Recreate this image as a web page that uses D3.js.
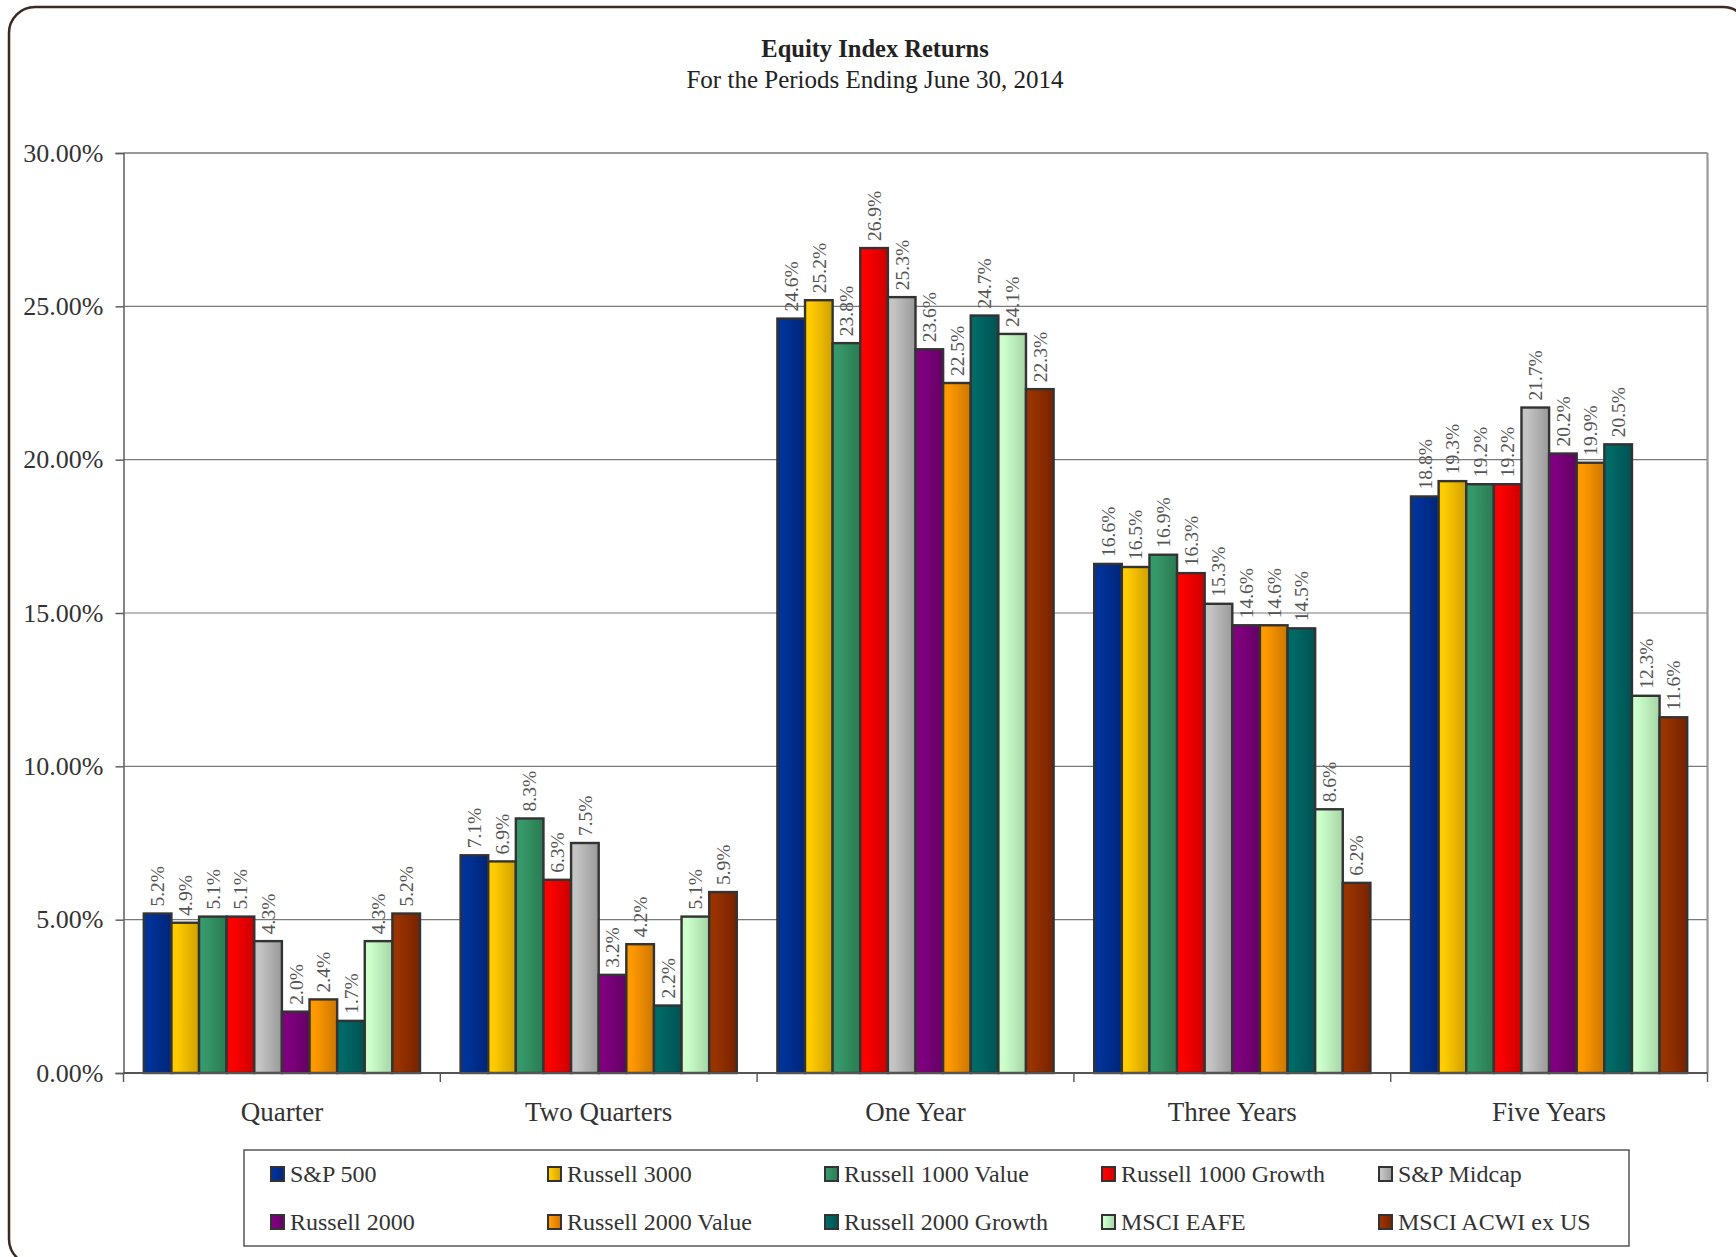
<!DOCTYPE html>
<html>
<head>
<meta charset="utf-8">
<script src="https://cdn.jsdelivr.net/npm/d3@7"></script>
<style>
  html, body { margin: 0; padding: 0; background: #fff; }
  svg { display: block; }
  text { font-family: "Liberation Serif", "DejaVu Serif", serif; }
</style>
</head>
<body>
<svg id="chart" width="1736" height="1257"></svg>
<script>
// ---------- data ----------
const categories = ["Quarter", "Two Quarters", "One Year", "Three Years", "Five Years"];
const seriesNames = ["S&P 500", "Russell 3000", "Russell 1000 Value", "Russell 1000 Growth", "S&P Midcap",
                     "Russell 2000", "Russell 2000 Value", "Russell 2000 Growth", "MSCI EAFE", "MSCI ACWI ex US"];
const sp500        = [5.2, 7.1, 24.6, 16.6, 18.8];
const russell3000  = [4.9, 6.9, 25.2, 16.5, 19.3];
const r1000Value   = [5.1, 8.3, 23.8, 16.9, 19.2];
const r1000Growth  = [5.1, 6.3, 26.9, 16.3, 19.2];
const spMidcap     = [4.3, 7.5, 25.3, 15.3, 21.7];
const russell2000  = [2.0, 3.2, 23.6, 14.6, 20.2];
const r2000Value   = [2.4, 4.2, 22.5, 14.6, 19.9];
const r2000Growth  = [1.7, 2.2, 24.7, 14.5, 20.5];
const msciEafe     = [4.3, 5.1, 24.1, 8.6, 12.3];
const msciAcwi     = [5.2, 5.9, 22.3, 6.2, 11.6];
const seriesValues = [sp500, russell3000, r1000Value, r1000Growth, spMidcap,
                      russell2000, r2000Value, r2000Growth, msciEafe, msciAcwi];
const yTicks = [0, 5, 10, 15, 20, 25, 30];
const title = "Equity Index Returns";
const subtitle = "For the Periods Ending June 30, 2014";

// colour pairs (light -> dark gradient)
const colors = [
  ["#003399", "#00257a"], ["#FFCC00", "#D0A000"], ["#36996A", "#2A7A52"], ["#FF0000", "#CC0000"],
  ["#C4C4C4", "#999999"], ["#800080", "#640064"], ["#FF9900", "#CC7700"], ["#006A66", "#005252"],
  ["#CCFFCC", "#A6D4A6"], ["#993300", "#772200"]
];

// ---------- layout ----------
const svg = d3.select("#chart");
const plot = { left: 123.5, right: 1707.5, top: 153, bottom: 1073 };

const defs = svg.append("defs");
colors.forEach((c, i) => {
  const g = defs.append("linearGradient").attr("id", "grad" + i)
    .attr("x1", "0%").attr("x2", "100%").attr("y1", "0%").attr("y2", "0%");
  g.append("stop").attr("offset", "0%").attr("stop-color", c[0]);
  g.append("stop").attr("offset", "20%").attr("stop-color", c[0]);
  g.append("stop").attr("offset", "100%").attr("stop-color", c[1]);
});

// outer rounded frame
svg.append("rect").attr("x", 9).attr("y", 7).attr("width", 1740).attr("height", 1258)
  .attr("rx", 26).attr("ry", 26).attr("fill", "#fff")
  .attr("stroke", "#3a2a22").attr("stroke-width", 2.5);

// titles
svg.append("text").attr("x", 875).attr("y", 57).attr("text-anchor", "middle")
  .attr("font-size", 24.5).attr("font-weight", "bold").attr("fill", "#222").text(title);
svg.append("text").attr("x", 875).attr("y", 88).attr("text-anchor", "middle")
  .attr("font-size", 25).attr("fill", "#222").text(subtitle);

// scales
const x0 = d3.scaleBand().domain(categories).range([plot.left, plot.right]).paddingInner(0).paddingOuter(0);
const groupPad = 20.3;
const x1 = d3.scaleBand().domain(d3.range(seriesNames.length))
  .range([groupPad, x0.bandwidth() - groupPad]).padding(0);
const y = d3.scaleLinear().domain([0, 30]).range([plot.bottom, plot.top]);

// gridlines
svg.append("g").selectAll("line").data(yTicks.filter(t => t > 0 && t < 30)).join("line")
  .attr("x1", plot.left).attr("x2", plot.right)
  .attr("y1", d => y(d)).attr("y2", d => y(d))
  .attr("stroke", "#7a7a7a").attr("stroke-width", 1.2);

// plot frame top/right
svg.append("line").attr("x1", plot.left).attr("x2", plot.right).attr("y1", plot.top).attr("y2", plot.top)
  .attr("stroke", "#999").attr("stroke-width", 2.2);
svg.append("line").attr("x1", plot.right).attr("x2", plot.right).attr("y1", plot.top).attr("y2", plot.bottom)
  .attr("stroke", "#999").attr("stroke-width", 2.2);

// bars
const groups = svg.append("g").selectAll("g").data(categories).join("g")
  .attr("transform", d => `translate(${x0(d)},0)`);

groups.each(function(cat, ci) {
  const g = d3.select(this);
  const data = seriesValues.map((arr, si) => ({ si, v: arr[ci] }));
  g.selectAll("rect").data(data).join("rect")
    .attr("x", d => x1(d.si)).attr("width", x1.bandwidth())
    .attr("y", d => y(d.v)).attr("height", d => y(0) - y(d.v))
    .attr("fill", d => `url(#grad${d.si})`)
    .attr("stroke", "#333").attr("stroke-width", 2.4);
  g.selectAll("text").data(data).join("text")
    .attr("transform", d => `translate(${x1(d.si) + x1.bandwidth() / 2},${y(d.v) - 7}) rotate(-90)`)
    .attr("dy", "0.35em")
    .attr("font-size", 19.5).attr("fill", "#555")
    .text(d => d.v.toFixed(1) + "%");
});

// y axis
const yAxis = d3.axisLeft(y).tickValues(yTicks).tickSize(8).tickPadding(12)
  .tickFormat(d => d.toFixed(2) + "%");
const yg = svg.append("g").attr("transform", `translate(${plot.left},0)`).call(yAxis);
yg.select(".domain").attr("stroke", "#666").attr("stroke-width", 1.6);
yg.selectAll(".tick line").attr("stroke", "#555").attr("stroke-width", 1.4);
yg.selectAll(".tick text").attr("font-size", 26).attr("fill", "#333")
  .attr("font-family", "'Liberation Serif', serif");

// x axis (category boundaries as ticks)
const xg = svg.append("g").attr("transform", `translate(0,${plot.bottom})`);
xg.append("line").attr("x1", plot.left).attr("x2", plot.right).attr("y1", 0).attr("y2", 0)
  .attr("stroke", "#555").attr("stroke-width", 2);
const bounds = categories.map(c => x0(c)).concat([x0(categories[categories.length - 1]) + x0.bandwidth()]);
xg.selectAll("line.tk").data(bounds).join("line").attr("class", "tk")
  .attr("x1", d => d).attr("x2", d => d).attr("y1", 0).attr("y2", 9)
  .attr("stroke", "#555").attr("stroke-width", 1.4);
xg.selectAll("text").data(categories).join("text")
  .attr("x", d => x0(d) + x0.bandwidth() / 2).attr("y", 48)
  .attr("text-anchor", "middle").attr("font-size", 27).attr("fill", "#333")
  .text(d => d);

// legend
const legend = { x: 244, y: 1150, w: 1385, h: 96 };
svg.append("rect").attr("x", legend.x).attr("y", legend.y).attr("width", legend.w).attr("height", legend.h)
  .attr("fill", "#fff").attr("stroke", "#555").attr("stroke-width", 1.5);
const colX = d3.scaleBand().domain(d3.range(5)).range([263, 263 + 277 * 5]);
const rowY = [1174, 1222];
const li = svg.append("g").selectAll("g").data(seriesNames).join("g")
  .attr("transform", (d, i) => `translate(${colX(i % 5) + 8},${rowY[Math.floor(i / 5)]})`);
li.append("rect").attr("x", 0).attr("y", -7).attr("width", 13).attr("height", 14)
  .attr("fill", (d, i) => `url(#grad${i})`).attr("stroke", "#333").attr("stroke-width", 2);
li.append("text").attr("x", 19).attr("y", 0).attr("dy", "0.35em")
  .attr("font-size", 24).attr("fill", "#333").text(d => d);
</script>
</body>
</html>
